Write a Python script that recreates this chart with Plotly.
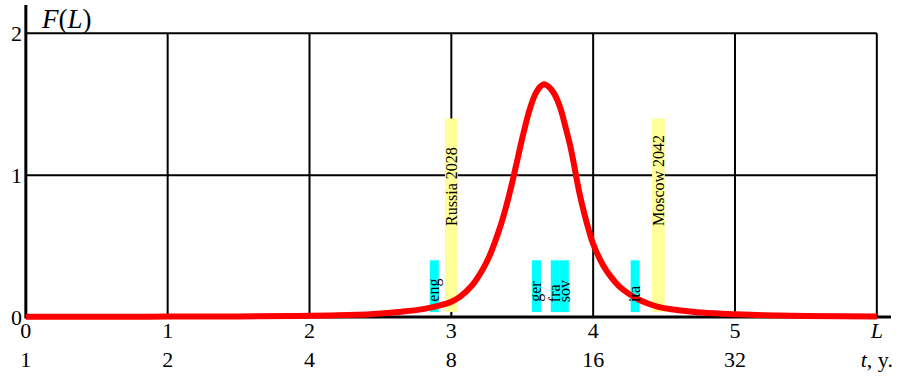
import plotly.graph_objects as go

# ---- data ----
L_curve = [0, 0.5, 1.0, 1.5, 1.9, 2.2, 2.45, 2.65, 2.8, 2.92, 3.0, 3.06, 3.15, 3.22, 3.27,
           3.34, 3.39, 3.43, 3.47, 3.5, 3.55, 3.59, 3.625, 3.655, 3.685, 3.725, 3.766, 3.81,
           3.84, 3.86, 3.9, 3.94, 3.97, 4.0, 4.07, 4.12, 4.18, 4.25, 4.32, 4.39, 4.46,
           4.55, 4.7, 4.85, 5.0, 5.2, 5.5, 6.0]
F_curve = [0.002, 0.002, 0.003, 0.004, 0.007, 0.012, 0.022, 0.038, 0.056, 0.082, 0.108,
           0.142, 0.228, 0.333, 0.433, 0.622, 0.792, 0.952, 1.128, 1.26, 1.455, 1.567, 1.623,
           1.642, 1.625, 1.575, 1.48, 1.32, 1.20, 1.10, 0.89, 0.72, 0.61, 0.515, 0.365, 0.29,
           0.22, 0.165, 0.124, 0.094, 0.072, 0.055, 0.038, 0.027, 0.02, 0.013, 0.008, 0.004]

cyan_labels = ["eng", "ger", "fra", "sov", "ita"]
cyan_pos = [2.88, 3.60, 3.733, 3.797, 4.296]
cyan_top = 0.40

yellow_labels = ["Russia 2028", "Moscow 2042"]
yellow_pos = [3.0, 4.46]
yellow_top = 1.40

bar_base = 0.035

x_tick_vals = [0, 1, 2, 3, 4, 5, 6]
x_tick_L = ["0", "1", "2", "3", "4", "5", "<i>L</i>"]
x_tick_t = ["1", "2", "4", "8", "16", "32", "<i>t</i>, y."]
y_tick_vals = [0, 1, 2]
grid_x = [1, 2, 3, 4, 5, 6]
grid_y = [1, 2]
x_max, y_max = 6.1, 2.2

FONT = "Liberation Serif"

fig = go.Figure()

# grid + axes as shapes (below traces)
shapes = []
for gx in grid_x:
    shapes.append(dict(type="line", xref="x", yref="y", x0=gx, x1=gx, y0=0, y1=grid_y[-1],
                       line=dict(color="black", width=2), layer="below"))
for gy in grid_y:
    shapes.append(dict(type="line", xref="x", yref="y", x0=0, x1=grid_x[-1], y0=gy, y1=gy,
                       line=dict(color="black", width=2), layer="below"))
shapes.append(dict(type="line", xref="x", yref="y", x0=0, x1=0, y0=-0.01, y1=y_max,
                   line=dict(color="black", width=3), layer="below"))
shapes.append(dict(type="line", xref="x", yref="y", x0=0, x1=x_max, y0=0, y1=0,
                   line=dict(color="black", width=3), layer="below"))

fig.add_trace(go.Bar(x=cyan_pos, y=[cyan_top - bar_base] * len(cyan_pos), base=bar_base,
                     width=0.0635, marker=dict(color="#00FFFF", line=dict(width=0)),
                     hoverinfo="skip", showlegend=False))
fig.add_trace(go.Bar(x=yellow_pos, y=[yellow_top - bar_base] * len(yellow_pos), base=bar_base,
                     width=0.09, marker=dict(color="#FFFF99", line=dict(width=0)),
                     hoverinfo="skip", showlegend=False))

fig.add_trace(go.Scatter(x=L_curve, y=F_curve, mode="lines",
                         line=dict(color="#FF0000", width=6, shape="spline", smoothing=1.0),
                         hoverinfo="skip", showlegend=False))

annotations = []
for lab, pos in zip(cyan_labels, cyan_pos):
    annotations.append(dict(x=pos, y=0.1, xref="x", yref="y", text=lab, textangle=-90,
                            showarrow=False, xanchor="center", yanchor="bottom",
                            font=dict(family=FONT, size=16, color="black"), borderpad=0))
for lab, pos in zip(yellow_labels, yellow_pos):
    annotations.append(dict(x=pos, y=0.634, xref="x", yref="y", text=lab, textangle=-90,
                            showarrow=False, xanchor="center", yanchor="bottom",
                            font=dict(family=FONT, size=16, color="black"), borderpad=0))
annotations.append(dict(x=0.29, y=2.1, xref="x", yref="y", text="<i>F</i>(<i>L</i>)",
                        showarrow=False, xanchor="center", yanchor="middle",
                        font=dict(family=FONT, size=27, color="black")))

fig.update_layout(
    width=904, height=381,
    margin=dict(l=23.2, r=12.8, t=4.6, b=59, autoexpand=False),
    paper_bgcolor="white", plot_bgcolor="white",
    barmode="overlay",
    shapes=shapes, annotations=annotations,
    font=dict(family=FONT, size=22, color="black"),
    xaxis=dict(range=[-0.02, x_max], showgrid=False, zeroline=False, showline=False,
               automargin=False, tickmode="array", tickvals=x_tick_vals,
               ticktext=[a + "<br>" + b for a, b in zip(x_tick_L, x_tick_t)],
               ticks="", ticklabelstandoff=-7,
               tickfont=dict(family=FONT, size=22, color="black")),
    yaxis=dict(range=[-0.035, y_max], showgrid=False, zeroline=False, showline=False,
               automargin=False, tickmode="array", tickvals=y_tick_vals, ticks="",
               tickfont=dict(family=FONT, size=22, color="black")),
)

fig.write_html("out.html", config={"displayModeBar": False},
               post_script="document.body.style.margin='0px';document.body.style.overflow='hidden';")
